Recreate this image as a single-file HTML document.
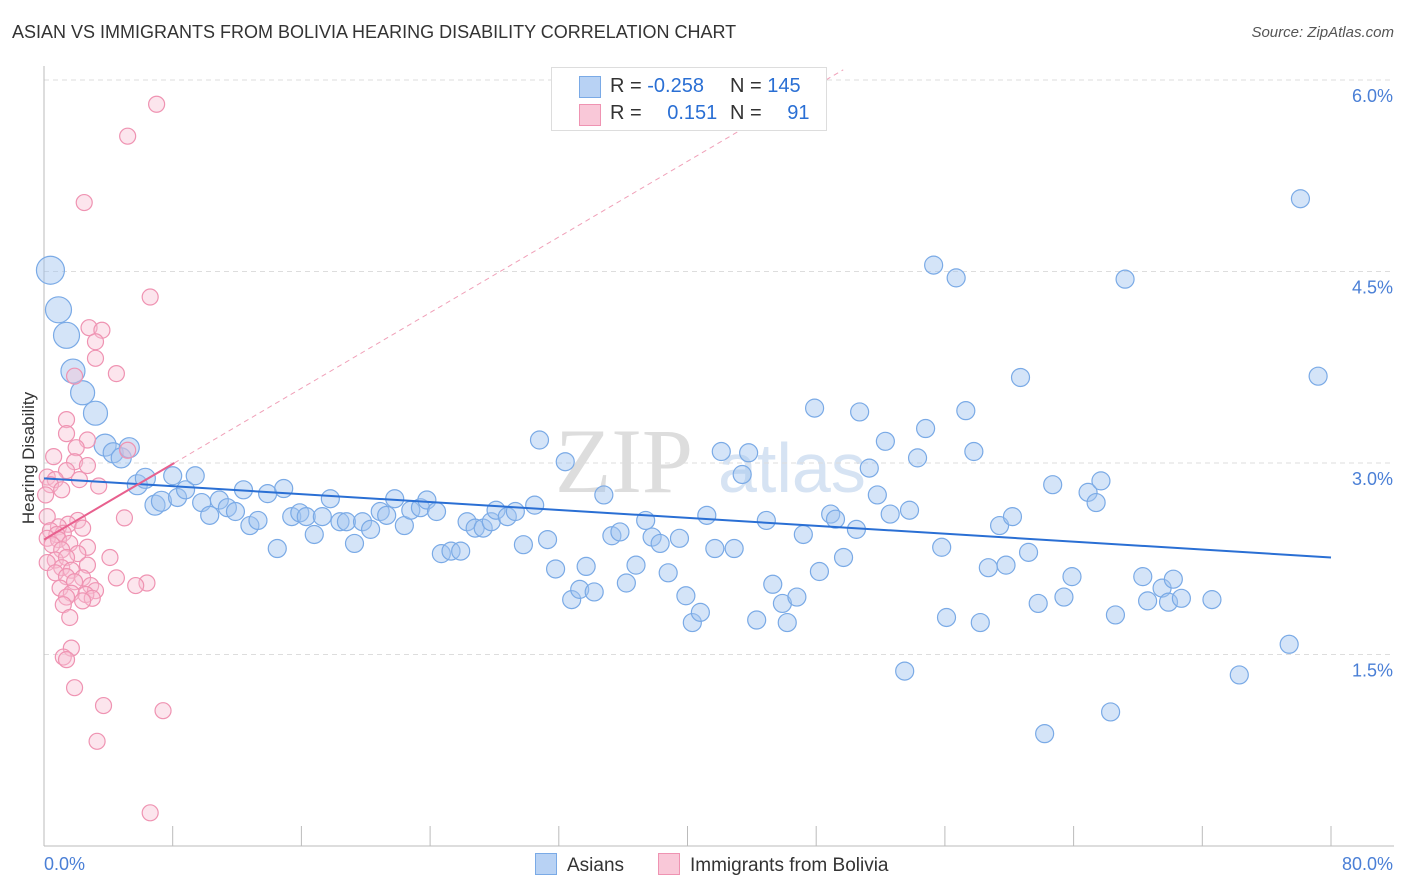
<!DOCTYPE html>
<html><head><meta charset="utf-8">
<style>
body{margin:0;background:#fff;font-family:"Liberation Sans",sans-serif;}
#wrap{position:relative;width:1406px;height:892px;overflow:hidden;}
.t{position:absolute;white-space:nowrap;}
</style></head>
<body>
<div id="wrap">
<div class="t" style="left:12px;top:22px;font-size:18px;color:#333;">ASIAN VS IMMIGRANTS FROM BOLIVIA HEARING DISABILITY CORRELATION CHART</div>
<div class="t" style="right:12px;top:24px;font-size:15px;color:#555;font-style:italic;">Source: ZipAtlas.com</div>
<svg id="svg" width="1406" height="892" style="position:absolute;left:0;top:0"></svg>
</div>
<script>
const xTicks=[0,80];
const yTicks=[1.5,3.0,4.5,6.0];
const asianX=[0.4,0.9,1.4,1.8,2.4,3.2,3.8,4.3,4.8,5.3,5.8,6.3,6.9,7.3,8.0,8.3,8.8,9.4,9.8,10.3,10.9,11.4,11.9,12.4,12.8,13.3,13.9,14.5,14.9,15.4,15.9,16.3,16.8,17.3,17.8,18.4,18.8,19.3,19.8,20.3,20.9,21.3,21.8,22.4,22.8,23.4,23.8,24.4,24.7,25.3,25.9,26.3,26.8,27.3,27.8,28.1,28.8,29.3,29.8,30.5,30.8,31.3,31.8,32.4,32.8,33.3,33.7,34.2,34.8,35.3,35.8,36.2,36.8,37.4,37.8,38.3,38.8,39.5,39.9,40.3,40.8,41.2,41.7,42.1,42.9,43.4,43.8,44.3,44.9,45.3,45.9,46.2,46.8,47.2,47.9,48.2,48.9,49.2,49.7,50.5,50.7,51.3,51.8,52.3,52.6,53.5,53.8,54.3,54.8,55.3,55.8,56.1,56.7,57.3,57.8,58.2,58.7,59.4,59.8,60.2,60.7,61.2,61.8,62.2,62.7,63.4,63.9,64.9,65.4,65.7,66.3,66.6,67.2,68.3,68.6,69.5,69.9,70.2,70.7,72.6,74.3,77.4,78.1,79.2];
const asianY=[4.51,4.20,4.00,3.72,3.55,3.39,3.14,3.08,3.04,3.12,2.83,2.88,2.67,2.70,2.90,2.73,2.79,2.90,2.69,2.59,2.71,2.65,2.62,2.79,2.51,2.55,2.76,2.33,2.80,2.58,2.61,2.58,2.44,2.58,2.72,2.54,2.54,2.37,2.54,2.48,2.62,2.59,2.72,2.51,2.63,2.65,2.71,2.62,2.29,2.31,2.31,2.54,2.49,2.49,2.54,2.63,2.58,2.62,2.36,2.67,3.18,2.40,2.17,3.01,1.93,2.01,2.19,1.99,2.75,2.43,2.46,2.06,2.20,2.55,2.42,2.37,2.14,2.41,1.96,1.75,1.83,2.59,2.33,3.09,2.33,2.91,3.08,1.77,2.55,2.05,1.90,1.75,1.95,2.44,3.43,2.15,2.60,2.56,2.26,2.48,3.40,2.96,2.75,3.17,2.60,1.37,2.63,3.04,3.27,4.55,2.34,1.79,4.45,3.41,3.09,1.75,2.18,2.51,2.20,2.58,3.67,2.30,1.90,0.88,2.83,1.95,2.11,2.77,2.69,2.86,1.05,1.81,4.44,2.11,1.92,2.02,1.91,2.09,1.94,1.93,1.34,1.58,5.07,3.68];
const asianR=[14,13,13,12,12,12,11,10,10,10,10,10,10,10];
const bolX=[5.2,7.0,2.5,6.6,2.8,3.6,3.2,3.2,4.5,1.9,1.4,1.4,2.7,2.0,5.2,0.6,1.9,2.7,1.4,0.2,0.7,2.2,0.4,3.4,1.1,0.1,0.2,2.1,5.0,1.5,0.9,0.4,2.4,1.2,0.8,0.2,0.9,1.6,0.5,2.7,1.1,2.1,0.7,1.4,4.1,0.2,2.7,1.1,1.7,0.7,1.4,2.4,4.5,1.9,6.4,5.7,2.9,1.0,3.2,1.7,2.6,1.4,3.0,2.4,1.2,1.6,1.7,1.2,1.4,1.9,3.7,7.4,3.3,6.6];
const bolY=[5.56,5.81,5.04,4.30,4.06,4.04,3.95,3.82,3.70,3.68,3.34,3.23,3.18,3.12,3.10,3.05,3.01,2.98,2.94,2.89,2.87,2.87,2.83,2.82,2.79,2.75,2.58,2.55,2.57,2.52,2.50,2.47,2.49,2.45,2.44,2.41,2.40,2.37,2.36,2.34,2.32,2.29,2.24,2.26,2.26,2.22,2.20,2.18,2.16,2.14,2.11,2.10,2.10,2.07,2.06,2.04,2.04,2.02,2.00,1.98,1.97,1.95,1.94,1.92,1.89,1.79,1.55,1.48,1.46,1.24,1.10,1.06,0.82,0.26];
const asianTrend=[2.88,2.26];
const bolTrend=[2.40,3.00];
const bolTrendEndX=8.1;

const L=44,R=1331,B=846,T=70;
const X=v=>L+v*(R-L)/80;
const Y=v=>B-v*(191.5/1.5);
const svg=document.getElementById('svg');
const NS='http://www.w3.org/2000/svg';
function mk(tag,attrs,parent){const e=document.createElementNS(NS,tag);for(const k in attrs)e.setAttribute(k,attrs[k]);(parent||svg).appendChild(e);return e;}

// watermark
let wm=mk('text',{x:555,y:492,'font-size':92,'font-family':'Liberation Serif,serif',fill:'#ddd'});


wm.textContent='ZIP';
let wm2=mk('text',{x:718,y:492,'font-size':70,'font-family':'Liberation Sans,sans-serif',fill:'#d6e3f3'});


wm2.textContent='atlas';

// gridlines and y labels
yTicks.forEach(v=>{
  const g=mk('line',{x1:L,x2:1394,y1:Y(v),y2:Y(v),stroke:'#ddd','stroke-dasharray':'5,4'});
  
  
  const t=mk('text',{x:1393,y:Y(v)+22,'text-anchor':'end','font-size':18,fill:'#4a7fd6'});
  
  
  t.textContent=v.toFixed(1)+'%';
});
// axes
let ax=mk('line',{x1:L,x2:L,y1:66,y2:846,stroke:'#bbb'});


let bx=mk('line',{x1:L,x2:1394,y1:846,y2:846,stroke:'#bbb'});


for(let i=0;i<=10;i++){
  const tk=mk('line',{x1:X(i*8),x2:X(i*8),y1:826,y2:846,stroke:'#bbb'});
  
  
}
xTicks.forEach((v,i)=>{
  const t=mk('text',{x:i?1393:44,y:870,'text-anchor':i?'end':'start','font-size':18,fill:'#4a7fd6'});
  
  
  t.textContent=v.toFixed(1)+'%';
});
let yt=mk('text',{x:34,y:458,'text-anchor':'middle','font-size':17,fill:'#333',transform:'rotate(-90 34 458)'});


yt.textContent='Hearing Disability';

// pink dashed extension
const slope=(bolTrend[1]-bolTrend[0])/bolTrendEndX;
const xEnd=(6.08-bolTrend[0])/slope;
let dl=mk('line',{x1:X(bolTrendEndX),y1:Y(bolTrend[1]),x2:X(xEnd),y2:Y(6.08),stroke:'#f0a0b8','stroke-dasharray':'5,4','stroke-width':1});



// points
asianX.forEach((v,i)=>{
  const c=mk('circle',{cx:X(v),cy:Y(asianY[i]),r:asianR[i]||9,fill:'rgba(160,195,240,0.45)',stroke:'#7aaae6','stroke-width':1.2});
  
  
});
bolX.forEach((v,i)=>{
  const c=mk('circle',{cx:X(v),cy:Y(bolY[i]),r:8,fill:'rgba(248,190,210,0.4)',stroke:'#ef93b2','stroke-width':1.2});
  
  
});
// trends
let at=mk('line',{x1:X(0),y1:Y(asianTrend[0]),x2:X(80),y2:Y(asianTrend[1]),stroke:'#2a6fd4','stroke-width':2});


let bt=mk('line',{x1:X(0),y1:Y(bolTrend[0]),x2:X(bolTrendEndX),y2:Y(bolTrend[1]),stroke:'#e8608e','stroke-width':2});


</script>
<div class="t" style="left:551px;top:67px;width:274px;height:62px;border:1px solid #ddd;background:#fff;font-size:20px;color:#333;">
  <div style="position:absolute;left:27px;top:8px;width:20px;height:20px;background:#b8d2f4;border:1px solid #7aaae6;"></div>
  <div class="t" style="left:58px;top:7px;">R = <span style="color:#2a6fd4">-0.258</span></div>
  <div class="t" style="left:178px;top:7px;">N = <span style="color:#2a6fd4">145</span></div>
  <div style="position:absolute;left:27px;top:36px;width:20px;height:20px;background:#f9c8d8;border:1px solid #ef93b2;"></div>
  <div class="t" style="left:58px;top:34px;">R = <span style="color:#2a6fd4;margin-left:20px">0.151</span></div>
  <div class="t" style="left:178px;top:34px;">N = <span style="color:#2a6fd4;margin-left:20px">91</span></div>
</div>
<div style="position:absolute;left:535px;top:853px;font-size:19px;color:#333;">
  <span style="display:inline-block;width:20px;height:20px;background:#b8d2f4;border:1px solid #7aaae6;vertical-align:-4px;margin-right:10px"></span>Asians</div>
<div style="position:absolute;left:658px;top:853px;font-size:19px;color:#333;">
  <span style="display:inline-block;width:20px;height:20px;background:#f9c8d8;border:1px solid #ef93b2;vertical-align:-4px;margin-right:10px"></span>Immigrants from Bolivia</div>
</body></html>
